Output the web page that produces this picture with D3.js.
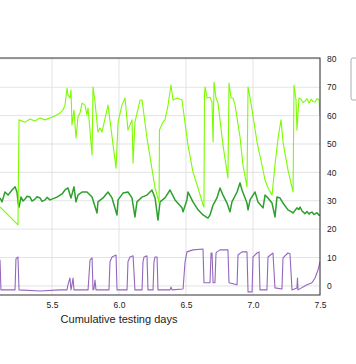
<!DOCTYPE html>
<html>
<head>
<meta charset="utf-8">
<script src="https://cdn.jsdelivr.net/npm/d3@7"></script>
<style>
  html, body { margin: 0; padding: 0; background: #fff; }
  svg { display: block; }
  text { font-family: "Liberation Sans", Arial, sans-serif; fill: #222; }
</style>
</head>
<body>
<svg id="chart" width="356" height="364"></svg>
<script>
// ---- data ----
const xTicks = [5.5, 6.0, 6.5, 7.0, 7.5];
const yTicks = [0, 10, 20, 30, 40, 50, 60, 70, 80];
const xLabel = "Cumulative testing days";

const lightDays = [5.112,5.246,5.254,5.299,5.336,5.373,5.411,5.448,5.485,5.522,5.560,5.582,5.597,5.612,5.619,5.634,5.642,5.649,5.664,5.679,5.694,5.709,5.724,5.746,5.761,5.769,5.799,5.806,5.821,5.843,5.858,5.873,5.918,5.978,5.993,6.022,6.045,6.067,6.097,6.105,6.119,6.157,6.172,6.209,6.269,6.284,6.299,6.302,6.328,6.343,6.366,6.388,6.403,6.433,6.470,6.478,6.515,6.552,6.590,6.627,6.634,6.638,6.642,6.657,6.679,6.694,6.702,6.709,6.724,6.739,6.776,6.813,6.821,6.836,6.851,6.866,6.903,6.925,6.955,6.963,6.978,6.993,7.030,7.067,7.090,7.112,7.142,7.164,7.187,7.209,7.224,7.261,7.299,7.306,7.321,7.328,7.343,7.358,7.373,7.388,7.403,7.418,7.433,7.448,7.463,7.478,7.493,7.500];
const lightVals = [27.8,21.5,58.5,57.7,58.8,58.1,59.2,58.5,59.2,59.9,60.9,62.0,63.7,69.7,67.3,66.2,69.0,56.7,62.0,52.1,59.5,60.9,64.4,63.7,60.2,62.7,46.1,70.1,64.8,54.2,55.6,54.2,63.7,41.5,57.7,63.7,66.2,54.9,58.5,43.3,57.7,65.5,65.5,52.1,34.5,32.0,29.2,54.9,57.7,58.5,63.7,70.8,65.5,66.2,65.5,62.7,49.6,40.1,34.5,28.5,27.8,67.3,70.1,66.2,66.5,64.8,50.7,71.8,66.2,64.4,49.6,38.0,71.5,66.2,66.2,63.7,52.5,42.6,34.9,70.1,66.2,62.0,50.7,42.6,37.3,34.5,32.0,42.6,52.1,58.5,50.7,40.8,33.1,70.8,65.5,54.9,66.2,65.8,64.6,65.1,66.0,64.4,65.8,64.9,64.8,66.0,65.5,60.2];

const darkDays = [5.112,5.127,5.149,5.172,5.202,5.224,5.239,5.246,5.254,5.269,5.284,5.299,5.314,5.336,5.351,5.373,5.388,5.411,5.426,5.448,5.463,5.485,5.537,5.575,5.597,5.619,5.642,5.664,5.679,5.694,5.724,5.761,5.799,5.836,5.843,5.881,5.918,5.948,5.985,5.993,6.030,6.067,6.097,6.119,6.134,6.172,6.209,6.246,6.269,6.291,6.306,6.343,6.381,6.418,6.470,6.478,6.507,6.515,6.552,6.590,6.627,6.664,6.679,6.702,6.731,6.754,6.776,6.806,6.828,6.843,6.881,6.903,6.918,6.955,6.963,6.978,7.015,7.037,7.075,7.090,7.112,7.142,7.164,7.179,7.201,7.224,7.261,7.284,7.299,7.313,7.328,7.343,7.351,7.366,7.373,7.388,7.403,7.418,7.425,7.440,7.455,7.463,7.478,7.493,7.500];
const darkVals = [31.0,29.6,33.1,32.0,33.8,34.9,33.1,29.6,27.8,31.3,29.9,30.6,31.6,31.3,29.9,30.6,31.4,31.0,29.8,30.3,31.2,30.3,31.3,32.4,33.8,34.5,31.0,34.9,29.6,32.0,33.1,33.1,31.3,25.7,29.6,31.0,33.1,31.0,25.0,30.3,32.7,33.1,31.0,24.3,29.6,31.3,32.0,33.8,31.0,23.2,29.6,31.0,33.8,30.3,27.5,26.1,30.3,33.1,29.6,26.8,25.0,23.9,25.0,28.5,31.0,34.5,32.0,29.2,26.1,29.6,33.1,36.3,33.8,29.2,26.8,30.3,33.1,29.6,27.5,32.0,31.0,29.2,24.3,31.3,31.0,29.2,26.8,26.2,25.7,26.6,27.5,26.9,27.8,26.4,26.1,25.4,26.2,25.3,25.7,26.0,25.2,25.4,25.8,24.9,25.0];

const purpleDays = [5.112,5.119,5.224,5.231,5.246,5.254,5.411,5.560,5.612,5.619,5.634,5.642,5.649,5.657,5.664,5.769,5.784,5.799,5.806,5.813,5.821,5.828,5.925,5.933,5.948,5.978,5.985,6.060,6.067,6.082,6.105,6.119,6.172,6.179,6.187,6.209,6.216,6.254,6.261,6.269,6.284,6.291,6.381,6.388,6.396,6.478,6.493,6.507,6.552,6.627,6.634,6.679,6.687,6.694,6.702,6.716,6.724,6.731,6.754,6.813,6.821,6.881,6.888,6.918,6.955,6.963,6.993,7.000,7.030,7.045,7.052,7.104,7.112,7.149,7.164,7.216,7.224,7.261,7.276,7.291,7.328,7.332,7.336,7.403,7.440,7.463,7.485,7.500];
const purpleVals = [9.2,-1.4,-1.4,9.5,10.2,-1.4,-1.8,-1.4,-1.4,0.4,2.8,-1.4,0.4,2.8,-1.4,-1.4,9.2,9.9,-1.4,-1.1,2.1,-1.4,-1.4,8.5,10.2,10.9,-1.4,-1.4,8.5,10.2,10.6,-1.4,-1.4,8.5,10.2,10.6,-1.4,-1.4,8.5,10.2,10.2,-1.4,-1.4,-0.4,-1.4,-1.1,8.5,12.0,12.7,13.0,1.1,1.1,11.6,11.6,1.1,1.1,11.6,12.0,12.7,12.7,1.1,0.4,10.9,12.0,12.0,-2.1,-2.1,10.2,11.6,12.0,-1.4,-1.4,10.2,11.6,-0.7,-1.1,9.9,11.6,11.3,-1.4,-0.7,2.8,-1.4,0.4,1.1,2.8,5.6,8.5];

const seriesColors = ["#7cfc00", "#2ca02c", "#9467bd"];
const seriesWidths = [1.1, 1.5, 1.1];

// ---- drawing ----
const svg = d3.select("#chart");
svg.append("rect").attr("width", 356).attr("height", 364).attr("fill", "#fff");

const x = d3.scaleLinear().domain([4.5, 7.5]).range([-82, 320]);
const y = d3.scaleLinear().domain([-3.2, 80.3]).range([295, 58]);

const plotL = x.range()[0], plotR = x.range()[1];
const plotT = y.range()[1], plotB = y.range()[0];

svg.append("defs").append("clipPath").attr("id", "clip")
  .append("rect").attr("x", plotL).attr("y", plotT)
  .attr("width", plotR - plotL).attr("height", plotB - plotT);

// grid
const grid = svg.append("g").attr("class", "grid");
grid.selectAll("line.h").data(yTicks).enter().append("line")
  .attr("x1", plotL).attr("x2", plotR)
  .attr("y1", d => y(d)).attr("y2", d => y(d))
  .attr("stroke", "#dcdcdc").attr("stroke-width", 0.8);
grid.selectAll("line.v").data(xTicks).enter().append("line")
  .attr("x1", d => x(d)).attr("x2", d => x(d))
  .attr("y1", plotT).attr("y2", plotB)
  .attr("stroke", "#dcdcdc").attr("stroke-width", 0.8);

// lines
const allSeries = [
  lightDays.map((d, i) => [d, lightVals[i]]),
  darkDays.map((d, i) => [d, darkVals[i]]),
  purpleDays.map((d, i) => [d, purpleVals[i]])
];
const line = d3.line().x(d => x(d[0])).y(d => y(d[1]));
const lg = svg.append("g").attr("clip-path", "url(#clip)");
[1, 0, 2].forEach(k => {
  lg.append("path").datum(allSeries[k])
    .attr("fill", "none")
    .attr("stroke", seriesColors[k])
    .attr("stroke-width", seriesWidths[k])
    .attr("stroke-linejoin", "round")
    .attr("d", line);
});

// frame
svg.append("rect").attr("x", plotL).attr("y", plotT)
  .attr("width", plotR - plotL).attr("height", plotB - plotT)
  .attr("fill", "none").attr("stroke", "#333").attr("stroke-width", 1);

// axes
const xAxis = svg.append("g").attr("transform", `translate(0,${plotB})`)
  .call(d3.axisBottom(x).tickValues(xTicks).tickFormat(d3.format(".1f")).tickSize(0).tickPadding(7));
const yAxis = svg.append("g").attr("transform", `translate(${plotR},0)`)
  .call(d3.axisRight(y).tickValues(yTicks).tickSize(0).tickPadding(7));
[xAxis, yAxis].forEach(a => {
  a.select(".domain").remove();
  a.selectAll("text").attr("font-family", "Liberation Sans, Arial, sans-serif")
    .attr("font-size", 8.5).attr("fill", "#222");
});

// x label
svg.append("text")
  .attr("x", (plotL + plotR) / 2).attr("y", 322.5)
  .attr("text-anchor", "middle").attr("font-size", 11)
  .text(xLabel);

// legend box (cut at the right edge)
svg.append("rect").attr("x", 351).attr("y", 58).attr("width", 80).attr("height", 42)
  .attr("rx", 2).attr("fill", "#fff").attr("stroke", "#999").attr("stroke-width", 0.8);
</script>
</body>
</html>
